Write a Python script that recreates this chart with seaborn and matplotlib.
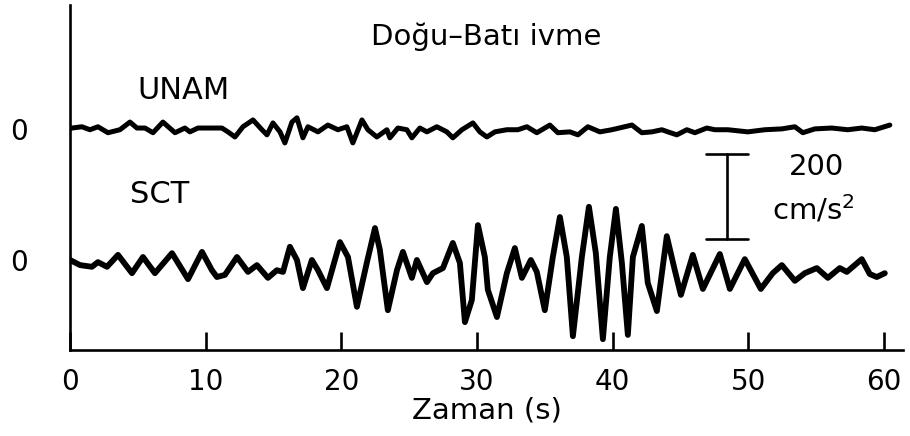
import numpy as np
import pandas as pd
import matplotlib
matplotlib.use("Agg")
import matplotlib.pyplot as plt
import seaborn as sns

# ---------------- data (time in s, acceleration in cm/s^2) ----------------
sct_t = [0.0, 0.74, 1.62, 2.06, 2.73, 3.54, 4.57, 5.38, 6.26, 7.52, 8.70, 9.73,
         10.46, 10.83, 11.42, 12.31, 13.12, 13.78, 14.59, 15.25, 15.70, 16.21,
         16.73, 17.17, 17.83, 18.28, 18.94, 19.90, 20.49, 21.15, 21.89, 22.48,
         22.84, 23.43, 24.10, 24.54, 25.20, 25.57, 26.31, 26.75, 27.49, 28.22,
         28.74, 29.11, 29.62, 30.07, 30.58, 30.80, 31.47, 32.20, 32.79, 33.31,
         33.97, 34.41, 35.00, 35.59, 36.11, 36.62, 37.07, 37.73, 38.25, 38.76,
         39.28, 39.79, 40.24, 40.68, 41.12, 41.49, 42.15, 42.59, 43.26, 43.99,
         44.58, 45.03, 45.91, 46.65, 47.90, 48.64, 49.74, 50.92, 51.80, 52.47,
         53.43, 54.16, 55.05, 55.86, 56.74, 57.26, 58.36, 58.95, 59.47, 60.06]
sct_a = [0, -12, -16, -5, -16, 12, -31, 7, -31, 16, -45, 19,
         -24, -40, -35, 7, -28, -12, -42, -24, -28, 31,
         0, -66, 0, -24, -66, 42, 7, -110, -5, 75,
         24, -118, -24, 19, -42, 0, -52, -31, -19, 40,
         -7, -146, -94, 82, 7, -70, -134, -31, 28, -42,
         0, -28, -118, 7, 101, 7, -179, 7, 125, 16,
         -186, 7, 120, -7, -176, 7, 80, -54, -120, 56,
         -24, -82, 12, -68, 14, -68, 2, -68, -31, -12,
         -49, -31, -19, -42, -19, -28, 2, -33, -40, -31]

unam_t = [0.0, 0.15, 0.88, 1.47, 2.06, 2.80, 3.68, 4.42, 4.94, 5.53, 6.12, 6.85,
          7.74, 8.47, 8.84, 9.43, 10.17, 11.20, 11.64, 12.16, 12.75, 13.49,
          14.15, 14.52, 14.96, 15.48, 15.84, 16.36, 16.73, 17.17, 17.54, 18.28,
          19.01, 19.75, 20.41, 20.85, 21.52, 21.96, 22.62, 23.36, 23.58, 24.17,
          24.83, 25.20, 25.79, 26.31, 27.04, 27.78, 28.22, 28.89, 29.70, 30.21,
          30.73, 31.32, 32.20, 33.01, 33.68, 34.41, 35.37, 35.96, 36.85, 37.44,
          38.17, 39.06, 39.94, 41.42, 42.15, 42.89, 43.63, 44.07, 44.73, 45.47,
          46.06, 46.94, 47.53, 48.49, 49.96, 51.22, 52.47, 53.43, 54.02, 54.90,
          56.15, 57.33, 58.36, 59.32, 60.43]
unam_a = [0, 2, 5, -2, 5, -9, -2, 16, 2, 2, -9, 16,
          -9, 2, -7, 2, 2, 2, -7, -19, 5, 21,
          -2, -14, 14, -7, -33, 16, 26, -21, 5, -7,
          9, -2, 5, -33, 21, -2, -19, -2, -21, 2,
          -2, -21, 2, -7, 5, -7, -21, -2, 14, -7,
          -19, -7, -2, -2, 5, -9, 9, -9, -7, -14,
          5, -7, -2, 9, -9, -7, -2, -7, -14, -2,
          -9, 2, -2, -2, -7, -2, 0, 5, -9, 0,
          2, -2, 2, -2, 9]

station_names = ["UNAM", "SCT"]
x_ticks = [0, 10, 20, 30, 40, 50, 60]
scale_value = 200  # cm/s^2

# ---------------- layout / style ----------------
unam_offset = 308
sct_offset = 0
scale_base = 50
scale_t = 48.4
cap_half = 1.55

sns.set_style("ticks")
plt.rcParams["font.family"] = ["DejaVu Sans"]
plt.rcParams["text.color"] = "black"
plt.rcParams["axes.labelcolor"] = "black"
plt.rcParams["xtick.color"] = "black"
plt.rcParams["ytick.color"] = "black"
plt.rcParams["lines.solid_joinstyle"] = "round"
plt.rcParams["lines.solid_capstyle"] = "round"

fig = plt.figure(figsize=(9.10, 4.36), dpi=100)
ax = fig.add_axes([0.0769, 0.1972, 0.9154, 0.7913])

df_sct = pd.DataFrame({"t": sct_t, "a": np.array(sct_a) + sct_offset})
df_unam = pd.DataFrame({"t": unam_t, "a": np.array(unam_a) + unam_offset})

sns.lineplot(data=df_unam, x="t", y="a", ax=ax, color="black", lw=3.6,
             estimator=None, sort=False)
sns.lineplot(data=df_sct, x="t", y="a", ax=ax, color="black", lw=4.2,
             estimator=None, sort=False)

ax.set_xlim(0, 61.4)
ax.set_ylim(-211.5, 599)

for s in ["top", "right"]:
    ax.spines[s].set_visible(False)
for s in ["left", "bottom"]:
    ax.spines[s].set_linewidth(1.9)
    ax.spines[s].set_color("black")

ax.set_xticks(x_ticks)
ax.set_xticklabels([str(v) for v in x_ticks])
ax.tick_params(axis="x", direction="in", length=13, width=1.9, pad=13,
               labelsize=20, colors="black")
ax.set_yticks([unam_offset, sct_offset])
ax.set_yticklabels(["0", "0"])
ax.tick_params(axis="y", length=0, pad=30, labelsize=20, colors="black")

ax.set_xlabel("Zaman (s)", fontsize=21, labelpad=0, color="black")
ax.set_ylabel("")

ax.text(30.7, 524, "Doğu–Batı ivme", ha="center", va="center", fontsize=21,
        color="black")
ax.text(8.4, 397, station_names[0], ha="center", va="center", fontsize=22,
        color="black")
ax.text(6.6, 155, station_names[1], ha="center", va="center", fontsize=22,
        color="black")

# scale bar
ax.plot([scale_t, scale_t], [scale_base, scale_base + scale_value],
        color="black", lw=1.9)
ax.plot([scale_t - cap_half, scale_t + cap_half], [scale_base, scale_base],
        color="black", lw=1.9)
ax.plot([scale_t - cap_half, scale_t + cap_half],
        [scale_base + scale_value, scale_base + scale_value],
        color="black", lw=1.9)
ax.text(55.0, 219, str(scale_value), ha="center", va="center", fontsize=21,
        color="black")
ax.text(54.75, 118, "cm/s$^2$", ha="center", va="center", fontsize=21,
        color="black")

fig.savefig("out.png", dpi=100)
